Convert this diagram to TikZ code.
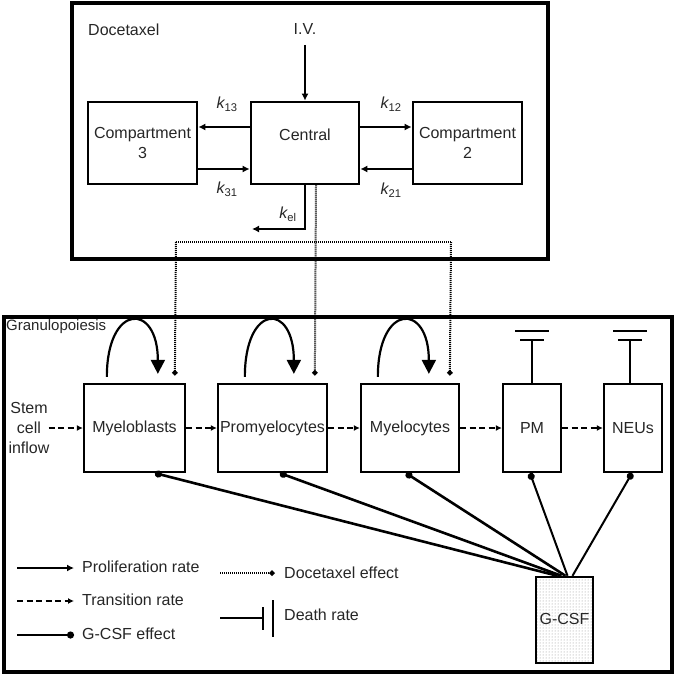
\documentclass[tikz,border=0pt]{standalone}
\usepackage{fontspec}
\setmainfont{Liberation Sans}
\usetikzlibrary{arrows.meta,patterns,calc}
\begin{document}
\begin{tikzpicture}[x=1pt,y=-1pt,
  every node/.style={font=\fontsize{16}{20}\selectfont, text=black!85, inner sep=0pt, align=center},
  outer/.style={draw, line width=3.2pt},
  topbox/.style={draw, line width=2.7pt, minimum height=82pt},
  cellbox/.style={draw, line width=2.3pt, minimum height=88pt},
  arr/.style={line width=2.3pt, -{Latex[length=7pt,width=7pt]}},
  trans/.style={line width=2.3pt, dash pattern=on 6pt off 3.5pt, -{Latex[length=6pt,width=6pt]}},
  doce/.style={line width=2pt, dash pattern=on 1pt off 1pt, -{Turned Square[length=6pt,width=6pt]}},
  doceline/.style={line width=2pt, dash pattern=on 1pt off 1pt},
  gthick/.style={line width=2.6pt, -{Circle[length=7pt]}},
  gthin/.style={line width=2pt, -{Circle[length=7pt]}},
  prolif/.style={line width=2.2pt, -{Triangle[length=14pt,width=14pt]}},
  death/.style={line width=2.3pt},
  klabel/.style={font=\fontsize{16}{20}\selectfont}
]
\useasboundingbox (0,0) rectangle (676,676);

% outer frames
\node[outer, minimum width=476pt, minimum height=256pt] (docebox) at (310,131) {};
\node[outer, minimum width=668pt, minimum height=355pt] (granbox) at (338,494.5) {};
\node[anchor=west] (docetitle) at (88,30) {Docetaxel};
\node[anchor=west, font=\fontsize{15}{18}\selectfont] (grantitle) at (6,327) {Granulopoiesis};

% PK compartments
\node[topbox, minimum width=108pt] (central) at (305,143) {};
\node (centrallbl) at (305,135) {Central};
\node[topbox, minimum width=109pt] (comp3) at (142.5,143) {Compartment\\3};
\node[topbox, minimum width=109pt] (comp2) at (467.5,143) {Compartment\\2};
\node (iv) at (305,29) {I.V.};
\coordinate (ivstart) at (305,45);
\draw[arr] (ivstart) -- (central.north);

\draw[arr] (central.west |- 0,127) -- (comp3.east |- 0,127);
\draw[arr] (comp3.east |- 0,169) -- (central.west |- 0,169);
\draw[arr] (central.east |- 0,127) -- (comp2.west |- 0,127);
\draw[arr] (comp2.west |- 0,169) -- (central.east |- 0,169);
\node[klabel] (k13) at (227,104) {\itshape k\textsubscript{\upshape 13}};
\node[klabel] (k31) at (227,189) {\itshape k\textsubscript{\upshape 31}};
\node[klabel] (k12) at (391,104) {\itshape k\textsubscript{\upshape 12}};
\node[klabel] (k21) at (391,190) {\itshape k\textsubscript{\upshape 21}};

\coordinate (kelend) at (252,229);
\draw[arr] (central.south) |- (kelend);
\node[klabel] (kel) at (288,214) {\itshape k\textsubscript{\upshape el}};

% granulopoiesis cells
\node[cellbox, minimum width=101pt] (mb) at (134.5,428) {Myeloblasts};
\node[cellbox, minimum width=109pt] (pro) at (272.5,428) {Promyelocytes};
\node[cellbox, minimum width=98pt] (my) at (410,428) {Myelocytes};
\node[cellbox, minimum width=58pt] (pm) at (532,428) {PM};
\node[cellbox, minimum width=58pt] (neu) at (633,428) {NEUs};
\node[draw, line width=2.4pt, minimum width=57pt, minimum height=86pt,
      pattern=dots, pattern color=black!45] (gcsf) at (564.5,620) {};
\node (gcsflbl) at (564.5,619) {G-CSF};

\node (stem) at (29,428) {Stem\\cell\\inflow};
\draw[trans] ([xshift=-1pt]stem.east) -- (mb.west);
\draw[trans] (mb.east) -- (pro.west);
\draw[trans] (pro.east) -- (my.west);
\draw[trans] (my.east) -- (pm.west);
\draw[trans] (pm.east) -- (neu.west);

% proliferation loops
\draw[prolif] ($(mb.north west)+(24,-6)$) .. controls +(0,-74) and +(0,-72) .. ($(mb.north west)+(75,-9)$);
\draw[prolif] ($(pro.north west)+(28,-6)$) .. controls +(0,-74) and +(0,-72) .. ($(pro.north west)+(77,-9)$);
\draw[prolif] ($(my.north west)+(18,-6)$) .. controls +(0,-74) and +(0,-72) .. ($(my.north west)+(69,-9)$);

% docetaxel effect
\coordinate (dl) at (176,242);
\coordinate (dr) at (451,242);
\draw[doceline] (dl) -- (dr);
\draw[doce] ([xshift=11pt]central.south) -- ($(pro.north west)+(98,-7)$);
\draw[doce] (dl) -- ($(mb.north west)+(92,-7)$);
\draw[doce] (dr) -- ($(my.north west)+(90,-7)$);

% death
\draw[death] (pm.north) -- ++(0,-43) coordinate (pmtop);
\draw[death] ($(pmtop)+(-12,0)$) -- ($(pmtop)+(12,0)$);
\draw[death] ($(pmtop)+(-17,-9)$) -- ($(pmtop)+(17,-9)$);
\draw[death] ([xshift=-3pt]neu.north) -- ++(0,-43) coordinate (neutop);
\draw[death] ($(neutop)+(-12,0)$) -- ($(neutop)+(12,0)$);
\draw[death] ($(neutop)+(-17,-9)$) -- ($(neutop)+(17,-9)$);

% G-CSF effect
\draw[gthick] ([xshift=-7pt]gcsf.north) -- ([xshift=20.5pt]mb.south);
\draw[gthick] ([xshift=-3pt]gcsf.north) -- ([xshift=7.5pt]pro.south);
\draw[gthick] ([xshift=1pt]gcsf.north) -- ([xshift=-4pt]my.south);
\draw[gthin] ([xshift=3pt]gcsf.north) -- ([xshift=-2pt]pm.south);
\draw[gthin] ([xshift=8pt]gcsf.north) -- ([xshift=-1pt]neu.south);

% legend
\coordinate (l1a) at (17,568); \coordinate (l1b) at (74,568);
\coordinate (l2a) at (17,601); \coordinate (l2b) at (74,601);
\coordinate (l3a) at (17,635); \coordinate (l3b) at (74,635);
\coordinate (l4a) at (220,573); \coordinate (l4b) at (275,573);
\coordinate (l5a) at (220,618); \coordinate (l5b) at (263,618);
\draw[arr] (l1a) -- (l1b);
\draw[trans] (l2a) -- (l2b);
\draw[gthick] (l3a) -- (l3b);
\draw[doce] (l4a) -- (l4b);
\draw[death] (l5a) -- (l5b);
\draw[death] ($(l5b)+(0,-11)$) -- ($(l5b)+(0,12)$);
\draw[death] ($(l5b)+(10,-18)$) -- ($(l5b)+(10,19)$);
\node[anchor=west] (lg1) at (82,567) {Proliferation rate};
\node[anchor=west] (lg2) at (82,600) {Transition rate};
\node[anchor=west] (lg3) at (82,634) {G-CSF effect};
\node[anchor=west] (lg4) at (284,573) {Docetaxel effect};
\node[anchor=west] (lg5) at (284,615) {Death rate};
\end{tikzpicture}
\end{document}
